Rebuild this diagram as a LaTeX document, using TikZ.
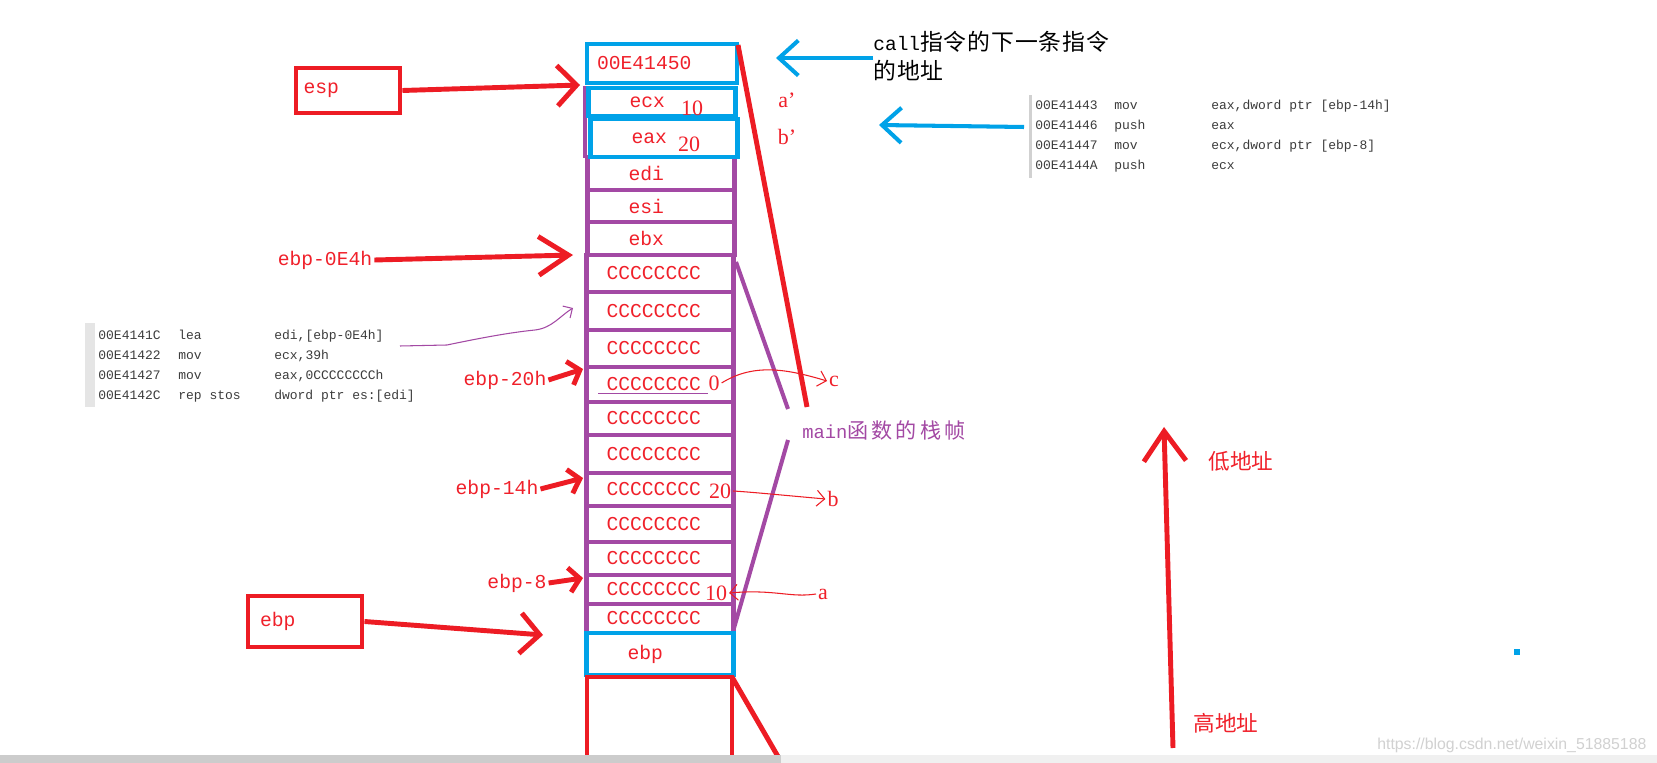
\documentclass[tikz,border=0pt]{standalone}
\usepackage{fontspec}
\setmainfont{Liberation Serif}
\newfontfamily\monof{Liberation Mono}
\newfontfamily\cjk{Noto Sans CJK SC}
\newfontfamily\cjksp[LetterSpace=15]{Noto Sans CJK SC}
\newfontfamily\cjkcall[LetterSpace=4]{Noto Sans CJK SC}
\newfontfamily\wmfont{Liberation Sans}
\usetikzlibrary{arrows.meta}
\definecolor{mred}{HTML}{ED1C24}
\definecolor{tred}{HTML}{F0202A}
\definecolor{mpurple}{HTML}{A349A4}
\definecolor{mblue}{HTML}{00A2E8}
\definecolor{codegray}{HTML}{3C3C3C}

\begin{document}
\begin{tikzpicture}[x=0.02cm, y=-0.02cm,
  cell/.style={draw, line width=2.8pt, inner ysep=0pt, align=left, text=tred, font=\monof\fontsize{11.2}{13}\selectfont},
  ccell/.style={cell, draw=mpurple, inner xsep=0.4cm, text width=2.14cm},
  rcell/.style={cell, inner xsep=0.82cm, text width=1.3cm},
  val/.style={text=tred, font=\fontsize{12.5}{14}\selectfont, inner sep=1pt},
  lbl/.style={text=tred, font=\monof\fontsize{11.2}{13}\selectfont, inner sep=1pt},
  redbox/.style={draw=mred, line width=2.8pt, align=left, text=tred, font=\monof\fontsize{11.2}{13}\selectfont},
  bigarr/.style={mred, line width=2.8pt, -{Straight Barb[length=11pt,width=23pt]}},
  smallarr/.style={mred, line width=2.8pt, -{Straight Barb[length=6pt,width=14pt]}},
  bluearr/.style={mblue, line width=2.3pt, -{Straight Barb[length=11pt,width=20pt]}},
  thinarr/.style={mred, line width=0.6pt, -{Straight Barb[length=4.5pt,width=9pt]}},
  code/.style={anchor=north west, inner sep=0pt, text=codegray, font=\monof\fontsize{7.4}{11.4}\selectfont},
  addr/.style={text=tred, inner sep=1pt, font=\cjk\fontsize{12.3}{14}\selectfont}]
\fill[white] (0,0) rectangle (1657,763);
\useasboundingbox (0,0) rectangle (1657,763);

% stack of main
\foreach \ya/\yb/\nm in {255/292/c1,292/330/c2,330/367/c3,367/402/c4,402/435/c5,435/473/c6,473/506/c7,506/542/c8,542/575/c9,575/604/c10,604/633/c11}
    \node[ccell, minimum height={(\yb-\ya)*0.02cm}] (\nm) at (660,{(\ya+\yb)/2}) {CCCCCCCC};
\node[rcell, draw=mpurple, minimum height=0.66cm] (edi) at (661,173.5) {edi};
\node[rcell, draw=mpurple, minimum height=0.64cm] (esi) at (661,206) {esi};
\node[rcell, draw=mpurple, minimum height=0.66cm] (ebx) at (661,238.5) {ebx};
\draw[mpurple, line width=2.8pt] (585,86) -- (585,158);
\draw[mpurple, line width=0.5pt] (598,393) -- (708,393);

% pushed values and saved ebp
\node[cell, draw=mblue, inner xsep=0.2cm, text width=2.6cm, minimum height=0.78cm] (ret) at (662,63.5) {00E41450};
\node[rcell, draw=mblue, minimum height=0.56cm] (ecx) at (662,102) {ecx};
\node[rcell, draw=mblue, minimum height=0.76cm] (eax) at (664,138) {eax};
\node[rcell, draw=mblue, minimum height=0.84cm] (ebp) at (660,654) {ebp};
\draw[mred, line width=2.8pt] (587,760) -- (587,677) -- (732,677) -- (732,760);
\draw[mred, line width=2.8pt] (732,677) -- (780,760);

% values
\node[val] (ecxv) at (692,108) {10};
\node[val] (eaxv) at (689,144) {20};
\node[val] (c4v) at (714,383) {0};
\node[val] (c7v) at (720,491) {20};
\node[val] (c10v) at (716,593) {10};
\node[val] (aprime) at (787,100) {a’};
\node[val] (bprime) at (787,137) {b’};
\node[val] (cname) at (834,381) {c};
\node[val] (bname) at (833,499) {b};
\node[val] (aname) at (823,594) {a};

% frame brackets
\draw[mred, line width=2.8pt] (738,45) -- (807,407);
\draw[mpurple, line width=2.3pt] (736,262) -- (788,409);
\draw[mpurple, line width=2.3pt] (734,628) -- (788,440);
\node[anchor=west, inner sep=0pt, text=mpurple, font=\cjksp\fontsize{12}{14}\selectfont] (mainlbl) at (802,430) {{\monof\fontsize{10.7}{14}\selectfont main}函数的栈帧};

% pointers on the left
\node[redbox, minimum height=0.9cm, text width=1.78cm, inner xsep=0.15cm] (esp) at (348,90.5) {esp};
\node[redbox, minimum height=1.02cm, text width=1.8cm, inner xsep=0.24cm] (ebpbox) at (305,621.5) {ebp};
\node[lbl] (l0e4) at (325,260) {ebp-0E4h};
\node[lbl] (l20) at (505,380) {ebp-20h};
\node[lbl] (l14) at (497,489) {ebp-14h};
\node[lbl] (l8) at (517,583) {ebp-8};
\coordinate (esptip) at (580,85);
\coordinate (e4tip) at (573,255);
\coordinate (t20) at (583,369);
\coordinate (t14) at (583,478);
\coordinate (t8) at (583,578);
\coordinate (ebptip) at (543,635);
\draw[bigarr] (esp.east) -- (esptip);
\draw[mred, line width=2.8pt, -{Straight Barb[length=17pt,width=22pt]}] (l0e4.east) -- (e4tip);
\draw[smallarr] (l20.east) -- (t20);
\draw[smallarr] (l14.east) -- (t14);
\draw[smallarr] (l8.east) -- (t8);
\draw[bigarr] (ebpbox.east) -- (ebptip);

% thin arrows
\draw[thinarr] (c4v.east) .. controls (755,362) and (790,370) .. (cname.west);
\draw[thinarr] (c7v.east) .. controls (750,492) and (770,494) .. (bname.west);
\draw[thinarr] (aname.west) .. controls (790,598) and (775,589) .. (c10v.east);

% disassembly
\fill[black!10] (85,323) rectangle (95,407);
\node[code] (lcode) at (98,325) {\begin{tabular}{@{}p{1.6cm}@{}p{1.92cm}@{}l@{}}
00E4141C & lea & edi,[ebp-0E4h]\\
00E41422 & mov & ecx,39h\\
00E41427 & mov & eax,0CCCCCCCCh\\
00E4142C & rep stos & dword ptr es:[edi]
\end{tabular}};
\coordinate (leasrc) at (400,346);
\coordinate (leatip) at (573,308);
\draw[mpurple, line width=0.6pt, -{Straight Barb[length=4pt,width=8pt]}] (leasrc) -- (447,345) .. controls (490,336) and (515,332) .. (535,330) .. controls (552,328) and (560,316) .. (leatip);

\fill[black!18] (1029,95) rectangle (1032,178);
\node[code] (rcode) at (1035,95) {\begin{tabular}{@{}p{1.58cm}@{}p{1.94cm}@{}l@{}}
00E41443 & mov & eax,dword ptr [ebp-14h]\\
00E41446 & push & eax\\
00E41447 & mov & ecx,dword ptr [ebp-8]\\
00E4144A & push & ecx
\end{tabular}};
\coordinate (pushsrc) at (1024,127);
\coordinate (pushtip) at (879,125);
\draw[bluearr] (pushsrc) -- (pushtip);

\node[anchor=base west, inner sep=0pt, font=\cjkcall\fontsize{13}{16}\selectfont] (call1) at (873,51) {{\monof\fontsize{11.1}{16}\selectfont call}指令的下一条指令};
\node[anchor=base west, inner sep=0pt, font=\cjkcall\fontsize{13}{16}\selectfont] (call2) at (873,80) {的地址};
\coordinate (calltip) at (776,58);
\draw[bluearr] (call1.west |- calltip) -- (calltip);

% address direction
\coordinate (hi) at (1173,748);
\coordinate (lo) at (1164,427);
\draw[mred, line width=2.8pt, -{Straight Barb[length=17pt,width=24pt]}] (hi) -- (lo);
\node[addr] (lowaddr) at (1241,461) {低地址};
\node[addr] (highaddr) at (1226,723) {高地址};

\fill[mblue] (1514,649) rectangle (1520,655);
\node[anchor=base west, inner sep=0pt, text=black!18, font=\wmfont\fontsize{9}{10}\selectfont] (wm) at (1377,749) {https://blog.csdn.net/weixin\_51885188};
\fill[black!20] (0,755) rectangle (781,763);
\fill[black!6] (781,755) rectangle (1657,763);
\end{tikzpicture}
\end{document}
